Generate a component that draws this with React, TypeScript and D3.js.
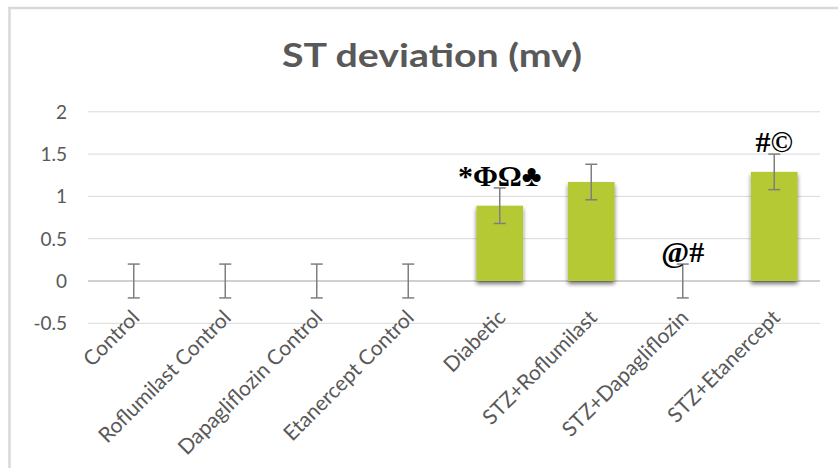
import React from "react";
import * as d3 from "d3";

// Groups on the category axis
const categories = [
  "Control",
  "Roflumilast Control",
  "Dapagliflozin Control",
  "Etanercept Control",
  "Diabetic",
  "STZ+Roflumilast",
  "STZ+Dapagliflozin",
  "STZ+Etanercept",
];

// Mean ST deviation (mV) per group
const means = [0, 0, 0, 0, 0.89, 1.17, 0, 1.29];

// Error (± SE) per group
const errors = [0.2, 0.2, 0.2, 0.2, 0.21, 0.21, 0.2, 0.21];

// Significance symbols above each group
const marks = ["", "", "", "", "*ΦΩ♣", "", "@#", "#©"];

const yTicks = [-0.5, 0, 0.5, 1, 1.5, 2];

const W = 838;
const H = 468;

export default function App() {
  const x = d3
    .scaleBand<string>()
    .domain(categories)
    .range([88, 820])
    .paddingInner(0.49)
    .paddingOuter(0.245);

  const y = d3.scaleLinear().domain([-0.5, 2]).range([323.3, 111.8]);

  const barColor = "#b5c934";
  const textGray = "#595959";
  const gridGray = "#d9d9d9";
  const font = "Lato, 'Open Sans', sans-serif";

  return (
    <svg
      width={W}
      height={H}
      style={{ position: "absolute", left: 0, top: 0, display: "block", background: "#fff" }}
    >
      <defs>
        <filter id="barShadow" x="-20%" y="-20%" width="140%" height="140%">
          <feGaussianBlur in="SourceAlpha" stdDeviation="2" />
          <feOffset dx="0" dy="3" result="ob" />
          <feComponentTransfer>
            <feFuncA type="linear" slope="0.55" />
          </feComponentTransfer>
          <feMerge>
            <feMergeNode />
            <feMergeNode in="SourceGraphic" />
          </feMerge>
        </filter>
      </defs>

      {/* chart frame (top and left edges) */}
      <line x1={8} x2={W} y1={8} y2={8} stroke="#d9d9d9" strokeWidth={2.5} />
      <line x1={9.5} x2={9.5} y1={8} y2={H} stroke="#d9d9d9" strokeWidth={2.5} />

      {/* title */}
      <text
        x={432}
        y={67}
        textAnchor="middle"
        fontFamily={font}
        fontWeight={700}
        fontSize={33}
        textLength={300}
        lengthAdjust="spacingAndGlyphs"
        fill={textGray}
      >
        ST deviation (mv)
      </text>

      {/* gridlines and y tick labels */}
      {yTicks.map((t) => (
        <g key={t}>
          <line
            x1={88}
            x2={820}
            y1={y(t)}
            y2={y(t)}
            stroke={t === 0 ? "#d0d0d0" : gridGray}
            strokeWidth={t === 0 ? 2 : 1}
          />
          <text
            x={67}
            y={y(t)}
            dy="0.36em"
            textAnchor="end"
            fontFamily={font}
            fontSize={19}
            fill={textGray}
          >
            {t}
          </text>
        </g>
      ))}

      {/* bars */}
      {categories.map((c, i) =>
        means[i] > 0 ? (
          <rect
            key={c}
            x={x(c)}
            width={x.bandwidth()}
            y={y(means[i])}
            height={y(0) - y(means[i])}
            fill={barColor}
            filter="url(#barShadow)"
          />
        ) : null
      )}

      {/* error bars */}
      {categories.map((c, i) => {
        const cx = (x(c) as number) + x.bandwidth() / 2;
        const top = y(means[i] + errors[i]);
        const bot = y(means[i] - errors[i]);
        return (
          <g key={c} stroke="#7f7f7f" strokeWidth={1.5}>
            <line x1={cx} x2={cx} y1={top} y2={bot} />
            <line x1={cx - 6} x2={cx + 6} y1={top} y2={top} />
            <line x1={cx - 6} x2={cx + 6} y1={bot} y2={bot} />
          </g>
        );
      })}

      {/* significance symbols */}
      {categories.map((c, i) =>
        marks[i] ? (
          <text
            key={c}
            x={(x(c) as number) + x.bandwidth() / 2}
            y={y(means[i] + errors[i]) - 2}
            textAnchor="middle"
            fontFamily="'Liberation Serif', 'Times New Roman', serif"
            fontWeight={700}
            fontSize={30}
            fill="#000"
          >
            {marks[i]}
          </text>
        ) : null
      )}

      {/* category labels */}
      {categories.map((c) => {
        const cx = (x(c) as number) + x.bandwidth() / 2;
        const ly = y(0) + 38;
        return (
          <text
            key={c}
            transform={`translate(${cx + 7},${ly}) rotate(-45)`}
            textAnchor="end"
            fontFamily={font}
            fontSize={21}
            fill={textGray}
          >
            {c}
          </text>
        );
      })}
    </svg>
  );
}
